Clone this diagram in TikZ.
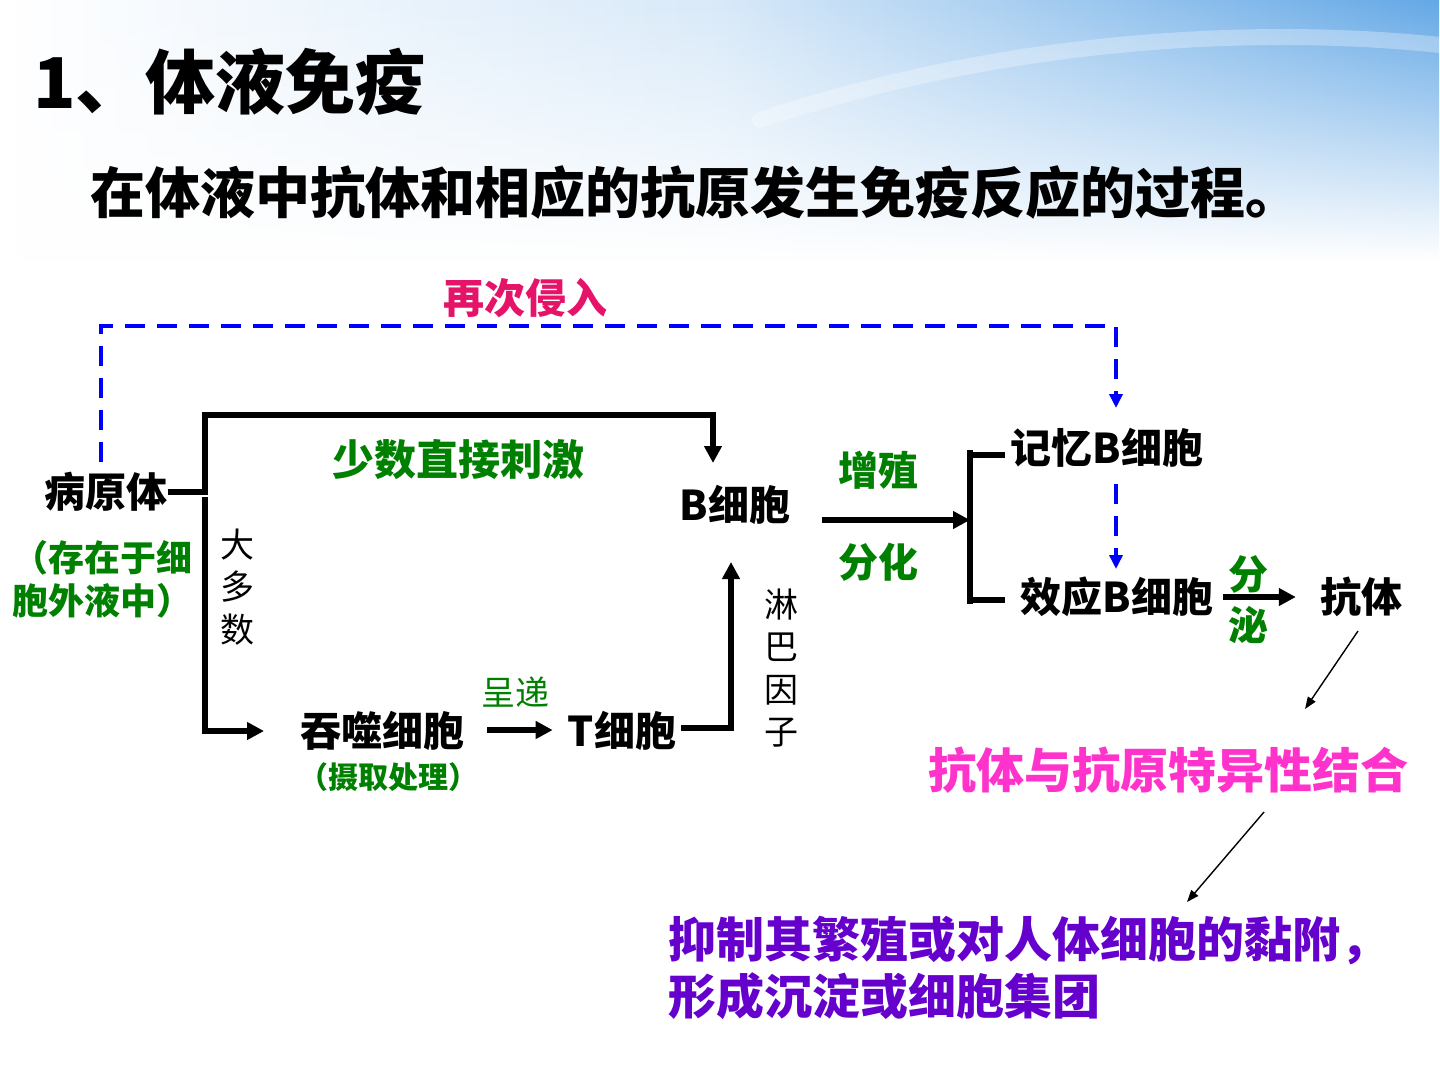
\documentclass[tikz,border=0pt]{standalone}
\usepackage{fontspec}
\setmainfont{Noto Sans CJK SC}
\usetikzlibrary{arrows.meta,fadings}
\definecolor{gtxt}{RGB}{0,128,0}
\definecolor{dblue}{RGB}{0,0,255}
\definecolor{crim}{RGB}{230,20,105}
\definecolor{pinkt}{RGB}{255,51,204}
\definecolor{purp}{RGB}{102,0,204}
\definecolor{bgblue}{RGB}{100,168,230}
\newcommand{\fsz}[2]{\fontsize{#1}{#2}\selectfont}
\begin{document}
\begin{tikzpicture}[x=1pt,y=-1pt,
  txt/.style={inner sep=0pt, font=\bfseries\fsz{41}{49}},
  grn/.style={inner sep=0pt, text=gtxt, font=\bfseries\fsz{40}{50}},
  vtxt/.style={inner sep=0pt, align=center, font=\fsz{34}{42.5}},
  conn/.style={line width=5.5pt, line join=miter},
  arr/.style={-{Triangle[length=17pt,width=17pt]}},
  dsh/.style={dblue, line width=4.5pt, dash pattern=on 20pt off 12pt},
  darr/.style={-{Triangle[length=14pt,width=13pt]}},
  thin/.style={line width=1.4pt, -{Triangle[length=12pt,width=9pt]}}
]
\useasboundingbox (0,0) rectangle (1440,1080);
\fill[white] (0,0) rectangle (1440,1080);
% background gradient
\shade[left color=white, right color=bgblue, middle color=bgblue!25!white, path fading=south] (0,0) rectangle (1440,260);
\draw[white, line width=16pt, opacity=0.3, line cap=round] (760,120) .. controls (1000,40) and (1250,25) .. (1440,45);

% titles
\node[inner sep=0pt, anchor=west, font=\bfseries\fsz{70}{80}] (title) at (33,82) {1、体液免疫};
\node[inner sep=0pt, anchor=west, font=\bfseries\fsz{55}{65}] (sub) at (90,192) {在体液中抗体和相应的抗原发生免疫反应的过程。};

% nodes
\node[inner sep=0pt, text=crim, font=\bfseries\fsz{41}{49}] (zaici) at (525,298) {再次侵入};
\node[txt] (bing) at (106,492) {病原体};
\node[inner sep=0pt, anchor=west, align=left, text=gtxt, font=\bfseries\fsz{36}{43}] (cunzai) at (12,579) {（存在于细\\胞外液中）};
\node[grn, font=\bfseries\fsz{42}{50}] (shaoshu) at (458,460) {少数直接刺激};
\node[vtxt] (daduo) at (237,587) {大\\多\\数};
\node[txt] (bcell) at (735,505) {B细胞};
\node[txt] (phago) at (382,731) {吞噬细胞};
\node[inner sep=0pt, text=gtxt, font=\bfseries\fsz{30}{36}] (sheqv) at (388,777) {（摄取处理）};
\node[inner sep=0pt, text=gtxt, font=\fsz{34}{40}] (chengdi) at (515,692) {呈递};
\node[txt] (tcell) at (622,731) {T细胞};
\node[vtxt] (linba) at (781,668) {淋\\巴\\因\\子};
\node[grn] (zengzhi) at (878,470) {增殖};
\node[grn] (fenhua) at (878,562) {分化};
\node[txt] (mem) at (1107,448) {记忆B细胞};
\node[txt] (eff) at (1117,597) {效应B细胞};
\node[grn, align=center, font=\bfseries\fsz{40}{51}] (fenmi) at (1248,600) {分\\泌};
\node[txt] (kangti) at (1361,597) {抗体};
\node[inner sep=0pt, text=pinkt, font=\bfseries\fsz{48}{56}] (bind) at (1168,770) {抗体与抗原特异性结合};
\node[inner sep=0pt, anchor=west, align=left, text=purp, font=\bfseries\fsz{48}{57}] (effect) at (668,968) {抑制其繁殖或对人体细胞的黏附，\\形成沉淀或细胞集团};

% coordinates
\coordinate (dstart) at (101,462);
\coordinate (dtop) at (1116,326);
\coordinate (dtip) at (1116,408);
\coordinate (d2s) at (1116,484);
\coordinate (d2e) at (1116,569);
\coordinate (k1) at (205,415);
\coordinate (btip) at (713,463);
\coordinate (k2) at (205,497);
\coordinate (ptip) at (264,731);
\coordinate (btip2) at (731,562);
\coordinate (fs) at (822,520);
\coordinate (fe) at (970,520);
\coordinate (bartop) at (970,450);
\coordinate (barbot) at (970,604);
\coordinate (m1) at (970,455);
\coordinate (m2) at (970,600);
\coordinate (a1s) at (1358,631);
\coordinate (a1e) at (1305,709);
\coordinate (a2s) at (1264,812);
\coordinate (a2e) at (1187,902);

% dashed connectors
\draw[dsh, darr] (dstart) |- (dtop) -- (dtip);
\draw[dsh, darr] (d2s) -- (d2e);

% solid connectors
\draw[conn, arr] (bing.east) -| (k1) -| (btip);
\draw[conn, arr] (k2) |- (ptip);
\draw[conn, arr] ([xshift=23pt,yshift=1pt]phago.east) -- ([xshift=-15pt,yshift=1pt]tcell.west);
\draw[conn, arr] ([xshift=5pt,yshift=3pt]tcell.east) -| (btip2);
\draw[conn, arr] (fs) -- (fe);
\draw[conn] (bartop) -- (barbot);
\draw[conn] (m1) -- ([xshift=-6pt]mem.west |- m1);
\draw[conn] (m2) -- ([xshift=-16pt]eff.west |- m2);
\draw[conn, arr] ([xshift=10pt]eff.east) -- ([xshift=-24pt]kangti.west);

% thin arrows
\draw[thin] (a1s) -- (a1e);
\draw[thin] (a2s) -- (a2e);
\end{tikzpicture}
\end{document}
